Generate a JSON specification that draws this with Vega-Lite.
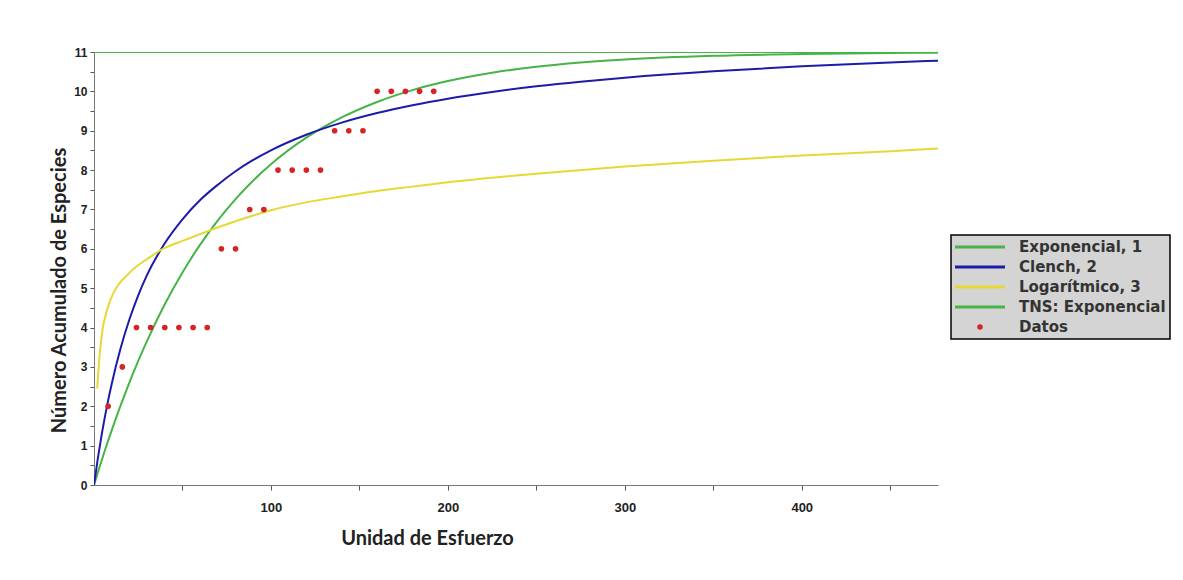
{
  "$schema": "https://vega.github.io/schema/vega-lite/v6.json",
  "autosize": {"type": "none"},
  "width": 844,
  "height": 433,
  "padding": {"left": 94, "top": 52, "right": 245, "bottom": 95},
  "background": "white",
  "datasets": {
    "curvas": [
      {"serie": "TNS: Exponencial", "esfuerzo": 0, "especies": 11},
      {"serie": "TNS: Exponencial", "esfuerzo": 477, "especies": 11},
      {"serie": "Exponencial, 1", "esfuerzo": 0, "especies": 0},
      {"serie": "Exponencial, 1", "esfuerzo": 2, "especies": 0.293},
      {"serie": "Exponencial, 1", "esfuerzo": 4, "especies": 0.578},
      {"serie": "Exponencial, 1", "esfuerzo": 6, "especies": 0.856},
      {"serie": "Exponencial, 1", "esfuerzo": 8, "especies": 1.126},
      {"serie": "Exponencial, 1", "esfuerzo": 10, "especies": 1.389},
      {"serie": "Exponencial, 1", "esfuerzo": 15, "especies": 2.016},
      {"serie": "Exponencial, 1", "esfuerzo": 20, "especies": 2.603},
      {"serie": "Exponencial, 1", "esfuerzo": 25, "especies": 3.151},
      {"serie": "Exponencial, 1", "esfuerzo": 30, "especies": 3.663},
      {"serie": "Exponencial, 1", "esfuerzo": 40, "especies": 4.59},
      {"serie": "Exponencial, 1", "esfuerzo": 50, "especies": 5.399},
      {"serie": "Exponencial, 1", "esfuerzo": 60, "especies": 6.107},
      {"serie": "Exponencial, 1", "esfuerzo": 70, "especies": 6.724},
      {"serie": "Exponencial, 1", "esfuerzo": 80, "especies": 7.264},
      {"serie": "Exponencial, 1", "esfuerzo": 90, "especies": 7.736},
      {"serie": "Exponencial, 1", "esfuerzo": 100, "especies": 8.148},
      {"serie": "Exponencial, 1", "esfuerzo": 120, "especies": 8.823},
      {"serie": "Exponencial, 1", "esfuerzo": 140, "especies": 9.338},
      {"serie": "Exponencial, 1", "esfuerzo": 160, "especies": 9.731},
      {"serie": "Exponencial, 1", "esfuerzo": 180, "especies": 10.032},
      {"serie": "Exponencial, 1", "esfuerzo": 200, "especies": 10.261},
      {"serie": "Exponencial, 1", "esfuerzo": 225, "especies": 10.473},
      {"serie": "Exponencial, 1", "esfuerzo": 250, "especies": 10.624},
      {"serie": "Exponencial, 1", "esfuerzo": 275, "especies": 10.731},
      {"serie": "Exponencial, 1", "esfuerzo": 300, "especies": 10.808},
      {"serie": "Exponencial, 1", "esfuerzo": 350, "especies": 10.902},
      {"serie": "Exponencial, 1", "esfuerzo": 400, "especies": 10.95},
      {"serie": "Exponencial, 1", "esfuerzo": 450, "especies": 10.975},
      {"serie": "Exponencial, 1", "esfuerzo": 477, "especies": 10.983},
      {"serie": "Clench, 2", "esfuerzo": 0, "especies": 0},
      {"serie": "Clench, 2", "esfuerzo": 2, "especies": 0.624},
      {"serie": "Clench, 2", "esfuerzo": 4, "especies": 1.185},
      {"serie": "Clench, 2", "esfuerzo": 6, "especies": 1.691},
      {"serie": "Clench, 2", "esfuerzo": 8, "especies": 2.15},
      {"serie": "Clench, 2", "esfuerzo": 10, "especies": 2.568},
      {"serie": "Clench, 2", "esfuerzo": 15, "especies": 3.468},
      {"serie": "Clench, 2", "esfuerzo": 20, "especies": 4.204},
      {"serie": "Clench, 2", "esfuerzo": 25, "especies": 4.818},
      {"serie": "Clench, 2", "esfuerzo": 30, "especies": 5.337},
      {"serie": "Clench, 2", "esfuerzo": 40, "especies": 6.14},
      {"serie": "Clench, 2", "esfuerzo": 50, "especies": 6.75},
      {"serie": "Clench, 2", "esfuerzo": 60, "especies": 7.24},
      {"serie": "Clench, 2", "esfuerzo": 70, "especies": 7.629},
      {"serie": "Clench, 2", "esfuerzo": 80, "especies": 7.97},
      {"serie": "Clench, 2", "esfuerzo": 90, "especies": 8.257},
      {"serie": "Clench, 2", "esfuerzo": 100, "especies": 8.503},
      {"serie": "Clench, 2", "esfuerzo": 120, "especies": 8.899},
      {"serie": "Clench, 2", "esfuerzo": 140, "especies": 9.206},
      {"serie": "Clench, 2", "esfuerzo": 160, "especies": 9.45},
      {"serie": "Clench, 2", "esfuerzo": 180, "especies": 9.649},
      {"serie": "Clench, 2", "esfuerzo": 200, "especies": 9.815},
      {"serie": "Clench, 2", "esfuerzo": 225, "especies": 9.986},
      {"serie": "Clench, 2", "esfuerzo": 250, "especies": 10.127},
      {"serie": "Clench, 2", "esfuerzo": 275, "especies": 10.246},
      {"serie": "Clench, 2", "esfuerzo": 300, "especies": 10.347},
      {"serie": "Clench, 2", "esfuerzo": 350, "especies": 10.51},
      {"serie": "Clench, 2", "esfuerzo": 400, "especies": 10.635},
      {"serie": "Clench, 2", "esfuerzo": 450, "especies": 10.735},
      {"serie": "Clench, 2", "esfuerzo": 477, "especies": 10.78},
      {"serie": "Logarítmico, 3", "esfuerzo": 1.8, "especies": 2.45},
      {"serie": "Logarítmico, 3", "esfuerzo": 2.5, "especies": 2.9},
      {"serie": "Logarítmico, 3", "esfuerzo": 3, "especies": 3.2},
      {"serie": "Logarítmico, 3", "esfuerzo": 4, "especies": 3.65},
      {"serie": "Logarítmico, 3", "esfuerzo": 5, "especies": 4.0},
      {"serie": "Logarítmico, 3", "esfuerzo": 6.5, "especies": 4.3},
      {"serie": "Logarítmico, 3", "esfuerzo": 8.5, "especies": 4.6},
      {"serie": "Logarítmico, 3", "esfuerzo": 11, "especies": 4.88},
      {"serie": "Logarítmico, 3", "esfuerzo": 14, "especies": 5.1},
      {"serie": "Logarítmico, 3", "esfuerzo": 18, "especies": 5.3},
      {"serie": "Logarítmico, 3", "esfuerzo": 24, "especies": 5.55},
      {"serie": "Logarítmico, 3", "esfuerzo": 30, "especies": 5.74},
      {"serie": "Logarítmico, 3", "esfuerzo": 39, "especies": 6.0},
      {"serie": "Logarítmico, 3", "esfuerzo": 50, "especies": 6.2},
      {"serie": "Logarítmico, 3", "esfuerzo": 65, "especies": 6.46},
      {"serie": "Logarítmico, 3", "esfuerzo": 80, "especies": 6.7},
      {"serie": "Logarítmico, 3", "esfuerzo": 100, "especies": 6.98},
      {"serie": "Logarítmico, 3", "esfuerzo": 120, "especies": 7.18},
      {"serie": "Logarítmico, 3", "esfuerzo": 140, "especies": 7.33},
      {"serie": "Logarítmico, 3", "esfuerzo": 160, "especies": 7.47},
      {"serie": "Logarítmico, 3", "esfuerzo": 180, "especies": 7.58},
      {"serie": "Logarítmico, 3", "esfuerzo": 200, "especies": 7.69},
      {"serie": "Logarítmico, 3", "esfuerzo": 250, "especies": 7.91},
      {"serie": "Logarítmico, 3", "esfuerzo": 300, "especies": 8.09},
      {"serie": "Logarítmico, 3", "esfuerzo": 350, "especies": 8.24},
      {"serie": "Logarítmico, 3", "esfuerzo": 400, "especies": 8.37},
      {"serie": "Logarítmico, 3", "esfuerzo": 450, "especies": 8.48},
      {"serie": "Logarítmico, 3", "esfuerzo": 477, "especies": 8.55}
    ],
    "datos": [
      {"serie": "Datos", "esfuerzo": 8, "especies": 2},
      {"serie": "Datos", "esfuerzo": 16, "especies": 3},
      {"serie": "Datos", "esfuerzo": 24, "especies": 4},
      {"serie": "Datos", "esfuerzo": 32, "especies": 4},
      {"serie": "Datos", "esfuerzo": 40, "especies": 4},
      {"serie": "Datos", "esfuerzo": 48, "especies": 4},
      {"serie": "Datos", "esfuerzo": 56, "especies": 4},
      {"serie": "Datos", "esfuerzo": 64, "especies": 4},
      {"serie": "Datos", "esfuerzo": 72, "especies": 6},
      {"serie": "Datos", "esfuerzo": 80, "especies": 6},
      {"serie": "Datos", "esfuerzo": 88, "especies": 7},
      {"serie": "Datos", "esfuerzo": 96, "especies": 7},
      {"serie": "Datos", "esfuerzo": 104, "especies": 8},
      {"serie": "Datos", "esfuerzo": 112, "especies": 8},
      {"serie": "Datos", "esfuerzo": 120, "especies": 8},
      {"serie": "Datos", "esfuerzo": 128, "especies": 8},
      {"serie": "Datos", "esfuerzo": 136, "especies": 9},
      {"serie": "Datos", "esfuerzo": 144, "especies": 9},
      {"serie": "Datos", "esfuerzo": 152, "especies": 9},
      {"serie": "Datos", "esfuerzo": 160, "especies": 10},
      {"serie": "Datos", "esfuerzo": 168, "especies": 10},
      {"serie": "Datos", "esfuerzo": 176, "especies": 10},
      {"serie": "Datos", "esfuerzo": 184, "especies": 10},
      {"serie": "Datos", "esfuerzo": 192, "especies": 10}
    ]
  },
  "encoding": {
    "x": {
      "field": "esfuerzo", "type": "quantitative",
      "scale": {"domain": [0, 477], "nice": false, "zero": false},
      "axis": {
        "title": "Unidad de Esfuerzo",
        "values": [50, 100, 150, 200, 250, 300, 350, 400, 450],
        "format": "d",
        "labelExpr": "datum.value % 100 === 0 ? datum.label : ''",
        "labelOverlap": false,
        "grid": false,
        "domainColor": "#777777",
        "tickColor": "#555555",
        "tickSize": 5,
        "labelPadding": 11,
        "labelFont": "Liberation Sans",
        "labelFontWeight": "bold",
        "labelFontSize": 13,
        "labelColor": "#222222",
        "titleFont": "Lato",
        "titleFontWeight": "bold",
        "titleFontSize": 20,
        "titleColor": "#222222",
        "titlePadding": 14,
        "titleX": 333,
        "titleAlign": "center"
      }
    },
    "y": {
      "field": "especies", "type": "quantitative",
      "scale": {"domain": [0, 11], "nice": false},
      "axis": {
        "title": "Número Acumulado de Especies",
        "values": [0, 0.5, 1, 1.5, 2, 2.5, 3, 3.5, 4, 4.5, 5, 5.5, 6, 6.5, 7, 7.5, 8, 8.5, 9, 9.5, 10, 10.5, 11],
        "format": ".0f",
        "labelExpr": "datum.value % 1 === 0 ? '' + datum.value : ''",
        "labelOverlap": false,
        "grid": false,
        "domainColor": "#777777",
        "tickColor": "#555555",
        "tickSize": 4,
        "labelPadding": 3,
        "labelFont": "Liberation Sans",
        "labelFontWeight": "bold",
        "labelFontSize": 12,
        "labelColor": "#222222",
        "titleFont": "Lato",
        "titleFontWeight": "bold",
        "titleFontSize": 20,
        "titleColor": "#222222",
        "titlePadding": 4,
        "titleY": 238,
        "titleAlign": "center"
      }
    },
    "color": {
      "field": "serie", "type": "nominal",
      "scale": {
        "domain": ["Exponencial, 1", "Clench, 2", "Logarítmico, 3", "TNS: Exponencial", "Datos"],
        "range": ["#46b446", "#1c1ca8", "#e6d835", "#46b446", "#d42424"]
      },
      "legend": {
        "orient": "none",
        "legendX": 857,
        "legendY": 183,
        "title": null,
        "fillColor": "#d4d4d4",
        "strokeColor": "#000000",
        "padding": 4,
        "rowPadding": 4,
        "clipHeight": 16,
        "symbolType": "stroke",
        "symbolSize": 2500,
        "symbolStrokeWidth": 3,
        "labelOffset": 49,
        "labelFont": "DejaVu Sans",
        "labelFontWeight": "bold",
        "labelFontSize": 15,
        "labelColor": "#333333",
        "labelLimit": 300,
        "encode": {
          "legend": {"update": {"strokeWidth": {"value": 1.5}}},
          "symbols": {
            "update": {
              "x": {"value": 25},
              "shape": {"signal": "datum.value === 'Datos' ? 'circle' : 'stroke'"},
              "size": {"signal": "datum.value === 'Datos' ? 30 : 2500"},
              "fill": {"signal": "datum.value === 'Datos' ? '#d42424' : 'transparent'"},
              "strokeWidth": {"signal": "datum.value === 'Datos' ? 0 : 3"}
            }
          }
        }
      }
    }
  },
  "layer": [
    {
      "data": {"name": "curvas"},
      "mark": {"type": "line", "interpolate": "monotone", "strokeWidth": 2, "clip": true}
    },
    {
      "data": {"name": "datos"},
      "mark": {"type": "point", "filled": true, "size": 32, "opacity": 1, "shape": "circle"}
    }
  ],
  "config": {
    "view": {"stroke": null},
    "font": "Liberation Sans"
  }
}
